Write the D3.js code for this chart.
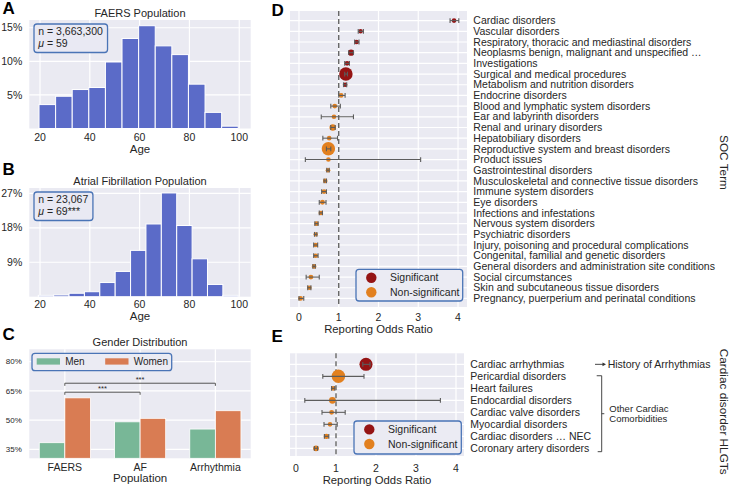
<!DOCTYPE html>
<html><head><meta charset="utf-8">
<script src="https://cdn.jsdelivr.net/npm/d3@7"></script>
<style>
body{margin:0;background:#fff;}
svg text{font-family:"Liberation Sans",Arial,Helvetica,sans-serif;fill:#262626;}
</style></head><body>
<svg id="chart" width="729" height="487"></svg>
<script>
// ---------------- DATA ----------------
const ageTicks = [20, 40, 60, 80, 100];
const faersAgePct = [3.56, 4.8, 5.8, 6.1, 9.9, 13.4, 15.3, 12.3, 11.0, 6.6, 2.4, 0.35];
const faersAgeRange = [19.6, 99.6];
const faersYTicks = [5, 10, 15];
const faersStats = ["n = 3,663,300", "59"];

const afAgePct = [0.35, 0.45, 0.9, 1.3, 3.7, 6.6, 12.1, 19.0, 27.1, 18.6, 9.9, 3.2, 0.35];
const afAgeRange = [19.3, 99.6];
const afYTicks = [9, 18, 27];
const afStats = ["n = 23,067", "69***"];

const genderPops = ["FAERS", "AF", "Arrhythmia"];
const genderSeries = ["Men", "Women"];
const menPct = [38.4, 49.1, 45.4];
const womenPct = [61.4, 50.9, 54.8];
const genderYTicks = [35, 50, 65, 80];
const genderSigPairs = [["FAERS", "Arrhythmia", "***"], ["FAERS", "AF", "***"]];

const rorTicks = [0, 1, 2, 3, 4];
const sigLabels = ["Significant", "Non-significant"];

const socTerms = ["Cardiac disorders", "Vascular disorders", "Respiratory, thoracic and mediastinal disorders",
  "Neoplasms benign, malignant and unspecified \u2026", "Investigations", "Surgical and medical procedures",
  "Metabolism and nutrition disorders", "Endocrine disorders", "Blood and lymphatic system disorders",
  "Ear and labyrinth disorders", "Renal and urinary disorders", "Hepatobiliary disorders",
  "Reproductive system and breast disorders", "Product issues", "Gastrointestinal disorders",
  "Musculoskeletal and connective tissue disorders", "Immune system disorders", "Eye disorders",
  "Infections and infestations", "Nervous system disorders", "Psychiatric disorders",
  "Injury, poisoning and procedural complications", "Congenital, familial and genetic disorders",
  "General disorders and administration site conditions", "Social circumstances",
  "Skin and subcutaneous tissue disorders", "Pregnancy, puerperium and perinatal conditions"];
const socROR  = [3.90, 1.55, 1.45, 1.31, 1.21, 1.18, 1.16, 1.06, 0.90, 0.88, 0.85, 0.76, 0.74, 0.74, 0.73, 0.66, 0.63, 0.59, 0.55, 0.44, 0.42, 0.42, 0.42, 0.38, 0.30, 0.26, 0.04];
const socLow  = [3.80, 1.49, 1.40, 1.25, 1.15, 1.15, 1.12, 1.00, 0.80, 0.56, 0.80, 0.60, 0.69, 0.16, 0.70, 0.63, 0.57, 0.51, 0.51, 0.40, 0.39, 0.37, 0.37, 0.35, 0.18, 0.22, 0.00];
const socHigh = [4.02, 1.62, 1.51, 1.37, 1.27, 1.22, 1.20, 1.16, 1.04, 1.37, 0.91, 0.97, 0.80, 3.06, 0.76, 0.69, 0.69, 0.68, 0.59, 0.48, 0.45, 0.47, 0.48, 0.41, 0.51, 0.30, 0.12];
const socSignificant = [1, 1, 1, 1, 1, 1, 1, 0, 0, 0, 0, 0, 0, 0, 0, 0, 0, 0, 0, 0, 0, 0, 0, 0, 0, 0, 0];
const socWeight = [1.0, 0.9, 1.0, 1.8, 1.1, 8.5, 1.0, 1.1, 1.1, 1.0, 2.0, 1.0, 8.5, 1.0, 1.0, 1.0, 1.0, 1.1, 1.0, 1.0, 0.9, 1.0, 1.0, 1.0, 1.1, 1.0, 1.1];

const hlgtTerms = ["Cardiac arrhythmias", "Pericardial disorders", "Heart failures", "Endocardial disorders",
  "Cardiac valve disorders", "Myocardial disorders", "Cardiac disorders \u2026 NEC", "Coronary artery disorders"];
const hlgtROR  = [1.75, 1.06, 0.93, 0.91, 0.89, 0.85, 0.76, 0.50];
const hlgtLow  = [1.67, 0.67, 0.89, 0.22, 0.65, 0.70, 0.71, 0.46];
const hlgtHigh = [1.85, 1.70, 0.97, 3.61, 1.23, 1.03, 0.82, 0.54];
const hlgtSignificant = [1, 0, 0, 0, 0, 0, 0, 0];
const hlgtWeight = [8.0, 8.5, 1.0, 2.2, 1.1, 1.0, 1.3, 1.6];
const hlgtGroups = ["History of Arrhythmias", "Other Cardiac", "Comorbidities"];

// ---------------- STYLE ----------------
const BG = "#eaeaf2", GRID = "#ffffff";
const HIST = "#5b6bc8";
const MEN = "#78b797", WOMEN = "#d97c53";
const SIG = "#951414", NONSIG = "#e2801f";
const BOXSTROKE = "#4a74b6";
const svg = d3.select("#chart");

function panelLetter(t, x, y) {
  svg.append("text").attr("x", x).attr("y", y).attr("font-size", 17).attr("font-weight", "bold")
    .style("fill", "#000").text(t);
}
function bgRect(r) {
  svg.append("rect").attr("x", r.l).attr("y", r.t).attr("width", r.r - r.l).attr("height", r.b - r.t).attr("fill", BG);
}

// ---------------- HISTOGRAMS ----------------
function histogram(r, pct, range, yTicks, yMax, title, titleY, stats, tickY, labelY) {
  bgRect(r);
  const x = d3.scaleLinear().domain([15.7, 104.6]).range([r.l, r.r]);
  const y = d3.scaleLinear().domain([0, yMax]).range([r.b, r.t]);
  const g = svg.append("g");
  g.selectAll(".vg").data(ageTicks).join("line")
    .attr("x1", d => x(d)).attr("x2", d => x(d)).attr("y1", r.t).attr("y2", r.b)
    .attr("stroke", GRID).attr("stroke-width", 1.2);
  g.selectAll(".hg").data(yTicks).join("line")
    .attr("x1", r.l).attr("x2", r.r).attr("y1", d => y(d)).attr("y2", d => y(d))
    .attr("stroke", GRID).attr("stroke-width", 1.2);
  const n = pct.length, w = (range[1] - range[0]) / n;
  g.selectAll(".bar").data(pct).join("rect")
    .attr("x", (d, i) => x(range[0] + i * w)).attr("width", (d, i) => x(range[0] + (i + 1) * w) - x(range[0] + i * w))
    .attr("y", d => y(d)).attr("height", d => y(0) - y(d))
    .attr("fill", HIST).attr("stroke", "#fff").attr("stroke-width", 1);
  g.selectAll(".yt").data(yTicks).join("text")
    .attr("x", r.l - 7).attr("y", d => y(d)).attr("dy", "0.35em").attr("text-anchor", "end")
    .attr("font-size", 10.5).text(d => d + "%");
  g.selectAll(".xt").data(ageTicks).join("text")
    .attr("x", d => x(d)).attr("y", tickY).attr("text-anchor", "middle").attr("font-size", 10.5).text(d => d);
  g.append("text").attr("x", (r.l + r.r) / 2).attr("y", labelY).attr("text-anchor", "middle")
    .attr("font-size", 11.5).text("Age");
  g.append("text").attr("x", (r.l + r.r) / 2).attr("y", titleY).attr("text-anchor", "middle")
    .attr("font-size", 11).text(title);
  // stats box
  const bx = r.l + 4.7, by = r.t + 4;
  const t1 = g.append("text").attr("x", bx + 4.3).attr("y", by + 11).attr("font-size", 10.5).text(stats[0]);
  const t2 = g.append("text").attr("x", bx + 4.3).attr("y", by + 22.5).attr("font-size", 10.5);
  t2.append("tspan").attr("font-style", "italic").text("\u03bc");
  t2.append("tspan").text(" = " + stats[1]);
  const wBox = Math.max(t1.node().getComputedTextLength(), t2.node().getComputedTextLength()) + 9;
  g.insert("rect", "text").attr("x", bx).attr("y", by).attr("width", wBox).attr("height", 28.5)
    .attr("rx", 3).attr("fill", "#e9e9f3").attr("stroke", BOXSTROKE).attr("stroke-width", 1.3);
}
panelLetter("A", 2.5, 14);
histogram({l: 29.3, t: 20, r: 250.7, b: 128.5}, faersAgePct, faersAgeRange, faersYTicks, 16.15,
  "FAERS Population", 16.8, faersStats, 141.3, 152.8);
panelLetter("B", 2.5, 175);
histogram({l: 29.3, t: 188, r: 250.7, b: 296.7}, afAgePct, afAgeRange, afYTicks, 28.4,
  "Atrial Fibrillation Population", 184.5, afStats, 308.3, 320);

// ---------------- GENDER ----------------
panelLetter("C", 2.5, 340);
(function () {
  const r = {l: 29.3, t: 349.3, r: 250.7, b: 458.3};
  bgRect(r);
  const x = d3.scalePoint().domain(genderPops).range([27.2, 253]).padding(0.5);
  const y = d3.scaleLinear().domain([30.4, 86.3]).range([r.b, r.t]);
  const g = svg.append("g");
  g.selectAll(".vg").data(genderPops).join("line")
    .attr("x1", d => x(d)).attr("x2", d => x(d)).attr("y1", r.t).attr("y2", r.b).attr("stroke", GRID).attr("stroke-width", 1.2);
  g.selectAll(".hg").data(genderYTicks).join("line")
    .attr("x1", r.l).attr("x2", r.r).attr("y1", d => y(d)).attr("y2", d => y(d)).attr("stroke", GRID).attr("stroke-width", 1.2);
  const bw = x.step() * 0.34;
  const series = [menPct, womenPct], cols = [MEN, WOMEN];
  series.forEach((vals, s) => {
    g.selectAll(".b" + s).data(vals).join("rect")
      .attr("x", (d, i) => x(genderPops[i]) - bw + s * bw).attr("width", bw)
      .attr("y", d => y(d)).attr("height", d => r.b - y(d))
      .attr("fill", cols[s]).attr("stroke", "#fff").attr("stroke-width", 0.8);
  });
  g.selectAll(".yt").data(genderYTicks).join("text")
    .attr("x", r.l - 7.5).attr("y", d => y(d)).attr("dy", "0.35em").attr("text-anchor", "end")
    .attr("font-size", 8).text(d => d + "%");
  g.selectAll(".xt").data(genderPops).join("text")
    .attr("x", d => x(d)).attr("y", 470.5).attr("text-anchor", "middle").attr("font-size", 10.5).text(d => d);
  g.append("text").attr("x", x("AF")).attr("y", 482).attr("text-anchor", "middle").attr("font-size", 11.5).text("Population");
  g.append("text").attr("x", (r.l + r.r) / 2).attr("y", 346).attr("text-anchor", "middle").attr("font-size", 11).text("Gender Distribution");
  // significance brackets
  const levels = [68.9, 64.3];
  genderSigPairs.forEach((p, i) => {
    const yy = y(levels[i]), x1 = x(p[0]), x2 = x(p[1]);
    g.append("path").attr("d", `M${x1},${yy + 2.6}V${yy}H${x2}V${yy + 2.6}`)
      .attr("fill", "none").attr("stroke", "#555").attr("stroke-width", 1);
    g.append("text").attr("x", (x1 + x2) / 2).attr("y", yy - 1.5).attr("text-anchor", "middle")
      .attr("font-size", 7.5).text(p[2]);
  });
  // legend
  const lg = g.append("g");
  lg.append("rect").attr("x", 32).attr("y", 353.3).attr("width", 139.7).attr("height", 17.4).attr("rx", 3)
    .attr("fill", "#ebebf3").attr("stroke", BOXSTROKE).attr("stroke-width", 1.3);
  genderSeries.forEach((s, i) => {
    const lx = 36.7 + i * 68.5;
    lg.append("rect").attr("x", lx).attr("y", 358.3).attr("width", 23.3).attr("height", 6.3).attr("fill", cols[i]);
    lg.append("text").attr("x", lx + 28.5).attr("y", 361.7).attr("dy", "0.35em").attr("font-size", 10).text(s);
  });
})();

// ---------------- FOREST PLOTS ----------------
const rScale = d3.scaleSqrt().domain([0, 10]).range([0, 7.3]);
function forest(r, xDom, yDom, terms, ror, lo, hi, sig, wt, tickY, labelY, legendBox) {
  bgRect(r);
  const x = d3.scaleLinear().domain(xDom).range([r.l, r.r]);
  const y = d3.scaleLinear().domain(yDom).range([r.t, r.b]);
  const g = svg.append("g");
  const idx = d3.range(terms.length);
  g.selectAll(".hg").data(idx).join("line")
    .attr("x1", r.l).attr("x2", r.r).attr("y1", d => y(d)).attr("y2", d => y(d)).attr("stroke", GRID).attr("stroke-width", 1.2);
  g.selectAll(".vg").data(rorTicks).join("line")
    .attr("x1", d => x(d)).attr("x2", d => x(d)).attr("y1", r.t).attr("y2", r.b).attr("stroke", GRID).attr("stroke-width", 1.2);
  g.append("line").attr("x1", x(1)).attr("x2", x(1)).attr("y1", r.t).attr("y2", r.b)
    .attr("stroke", "#5a5a5a").attr("stroke-width", 1.3).attr("stroke-dasharray", "5,3");
  g.selectAll(".pt").data(idx).join("circle")
    .attr("cx", i => x(ror[i])).attr("cy", i => y(i)).attr("r", i => rScale(wt[i]))
    .attr("fill", i => sig[i] ? SIG : NONSIG);
  const eb = g.selectAll(".eb").data(idx).join("g").attr("stroke", "#5c5c5c").attr("stroke-width", 1.1);
  eb.append("line").attr("x1", i => x(lo[i])).attr("x2", i => x(hi[i])).attr("y1", i => y(i)).attr("y2", i => y(i));
  eb.append("line").attr("x1", i => x(lo[i])).attr("x2", i => x(lo[i])).attr("y1", i => y(i) - 2.4).attr("y2", i => y(i) + 2.4);
  eb.append("line").attr("x1", i => x(hi[i])).attr("x2", i => x(hi[i])).attr("y1", i => y(i) - 2.4).attr("y2", i => y(i) + 2.4);
  g.selectAll(".lab").data(idx).join("text")
    .attr("x", r.r + 6.3).attr("y", i => y(i)).attr("dy", "0.35em").attr("font-size", 10.5).text(i => terms[i]);
  g.selectAll(".xt").data(rorTicks).join("text")
    .attr("x", d => x(d)).attr("y", tickY).attr("text-anchor", "middle").attr("font-size", 10.5).text(d => d);
  g.append("text").attr("x", (r.l + r.r) / 2).attr("y", labelY).attr("text-anchor", "middle")
    .attr("font-size", 11.3).text("Reporting Odds Ratio");
  // legend
  const b = legendBox;
  g.append("rect").attr("x", b.x).attr("y", b.y).attr("width", b.w).attr("height", b.h).attr("rx", 3)
    .attr("fill", "#ebebf3").attr("stroke", BOXSTROKE).attr("stroke-width", 1.3);
  sigLabels.forEach((s, i) => {
    const cy = b.y + 8.4 + i * 14.6;
    g.append("circle").attr("cx", b.x + 15.3).attr("cy", cy).attr("r", 5.2).attr("fill", i === 0 ? SIG : NONSIG);
    g.append("text").attr("x", b.x + 34).attr("y", cy).attr("dy", "0.35em").attr("font-size", 10.5).text(s);
  });
  return {x, y};
}
panelLetter("D", 271.5, 15.5);
forest({l: 290, t: 11, r: 467, b: 307}, [-0.226, 4.226], [-0.9, 26.8], socTerms, socROR, socLow, socHigh,
  socSignificant, socWeight, 320.5, 333, {x: 356, y: 269.3, w: 106.7, h: 31.7});
svg.append("text").attr("transform", "translate(719.5,162.5) rotate(90)").attr("text-anchor", "middle")
  .attr("font-size", 11.8).text("SOC Term");

panelLetter("E", 271.5, 341.5);
const eSc = forest({l: 290, t: 353.3, r: 464, b: 456}, [-0.15, 4.2], [-0.92, 7.64], hlgtTerms, hlgtROR, hlgtLow, hlgtHigh,
  hlgtSignificant, hlgtWeight, 471.5, 484, {x: 354, y: 421, w: 107.3, h: 33});
svg.append("text").attr("transform", "translate(719.5,411.7) rotate(90)").attr("text-anchor", "middle")
  .attr("font-size", 11.8).text("Cardiac disorder HLGTs");

// annotations for panel E
(function () {
  const y = eSc.y;
  const ya = y(0);
  svg.append("line").attr("x1", 595).attr("x2", 603).attr("y1", ya).attr("y2", ya).attr("stroke", "#333").attr("stroke-width", 0.9);
  svg.append("path").attr("d", `M606,${ya}L602.5,${ya - 1.8}L602.5,${ya + 1.8}Z`).attr("fill", "#333");
  svg.append("text").attr("x", 607.7).attr("y", ya).attr("dy", "0.35em").attr("font-size", 10.5).text(hlgtGroups[0]);
  const yTop = y(0.95), yBot = y(7.28), yMid = (yTop + yBot) / 2;
  svg.append("path").attr("d", `M596.7,${yTop}H601.7V${yBot}H597.7M601.7,${yMid}H604.3`)
    .attr("fill", "none").attr("stroke", "#333").attr("stroke-width", 0.9);
  svg.append("text").attr("x", 609.3).attr("y", yMid - 4.8).attr("dy", "0.35em").attr("font-size", 9.5).text(hlgtGroups[1]);
  svg.append("text").attr("x", 609.3).attr("y", yMid + 5.2).attr("dy", "0.35em").attr("font-size", 9.5).text(hlgtGroups[2]);
})();
</script>
</body></html>
